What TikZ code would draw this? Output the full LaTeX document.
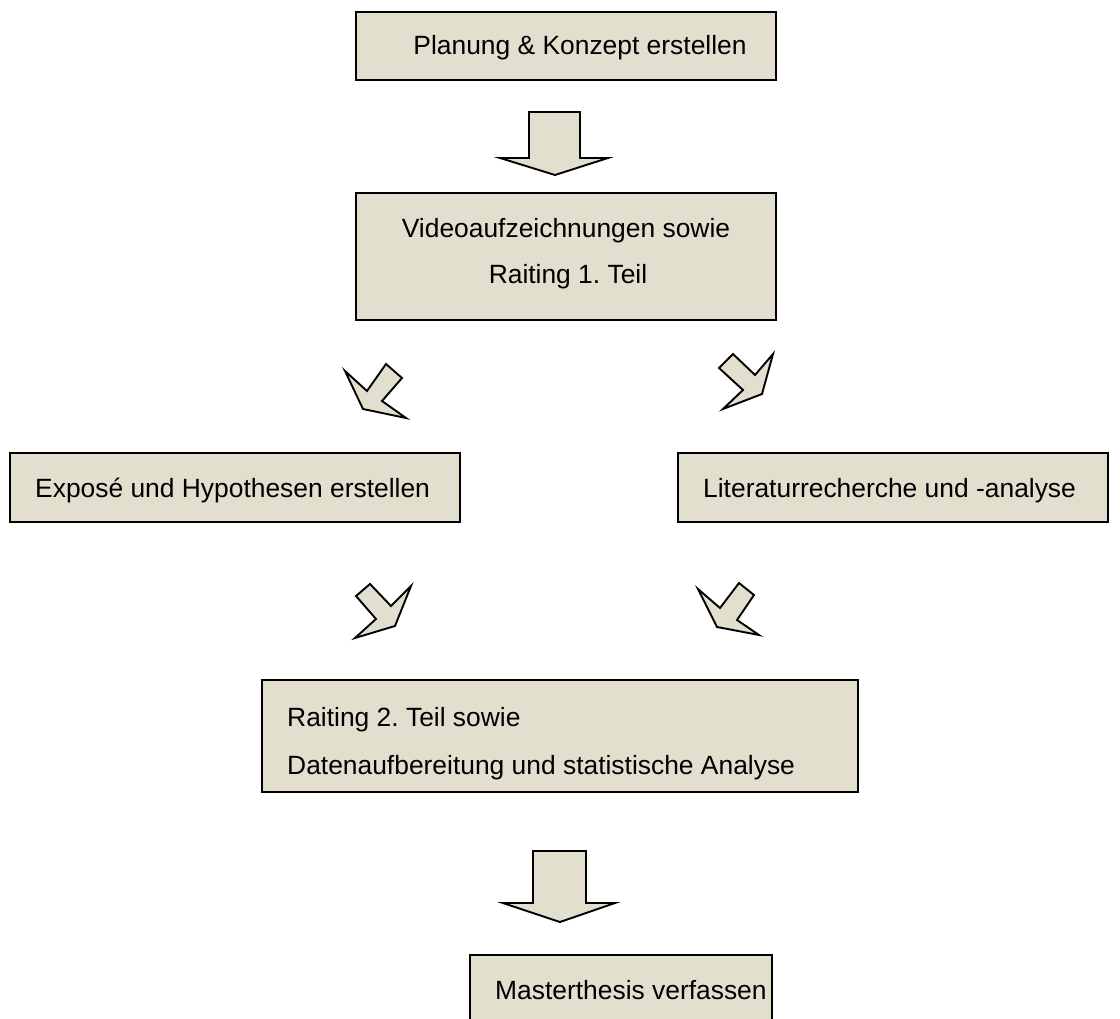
\documentclass[tikz,border=0pt]{standalone}
\usepackage{fontspec}
\setmainfont{Liberation Sans}
\definecolor{boxfill}{RGB}{226,223,207}
\frenchspacing
\begin{document}
\begin{tikzpicture}[x=1pt,y=-1pt,
  box/.style={draw=black,fill=boxfill,line width=2.7pt,rectangle,inner sep=0pt},
  lbl/.style={inner sep=0pt,font=\fontsize{26.4}{30}\selectfont},
  blockarrow/.style={draw=black,fill=boxfill,line width=1.9pt,line join=miter}]
\useasboundingbox (0,0) rectangle (1120,1019);
\clip (0,0) rectangle (1120,1019);
% boxes
\node[box,minimum width=420pt,minimum height=68pt] (b1) at (566,46) {};
\node[box,minimum width=420pt,minimum height=127pt] (b2) at (566,256.5) {};
\node[box,minimum width=450pt,minimum height=69pt] (b3) at (235,487.5) {};
\node[box,minimum width=430pt,minimum height=69pt] (b4) at (893,487.5) {};
\node[box,minimum width=596pt,minimum height=112pt] (b5) at (560,736) {};
\node[box,minimum width=302pt,minimum height=76pt] (b6) at (621,993) {};
% texts
\node[lbl,anchor=base] (t1) at (580,55) {Planung \& Konzept erstellen};
\node[lbl,anchor=base] (t2a) at (566,238) {Videoaufzeichnungen sowie};
\node[lbl,anchor=base] (t2b) at (568,284) {Raiting 1. Teil};
\node[lbl,anchor=base west] (t3) at (35,497) {Exposé und Hypothesen erstellen};
\node[lbl,anchor=base west] (t4) at (703,497) {Literaturrecherche und -analyse};
\node[lbl,anchor=base west] (t5a) at (287,726) {Raiting 2. Teil sowie};
\node[lbl,anchor=base west] (t5b) at (287,774) {Datenaufbereitung und statistische Analyse};
\node[lbl,anchor=base west] (t6) at (495,999) {Masterthesis verfassen};
% block arrows
\draw[blockarrow] (529,112) -- (580,112) -- (580,158) -- (608,158) -- (555,175) -- (500,158) -- (529,158) -- cycle;
\draw[blockarrow] (386,364) -- (402,378) -- (382,401) -- (406,418) -- (363,409) -- (345,371) -- (367,391) -- cycle;
\draw[blockarrow] (733,354) -- (719,368) -- (743,390) -- (723,409) -- (762,394) -- (773,354) -- (755,375) -- cycle;
\draw[blockarrow] (370,584) -- (356,596) -- (376,619) -- (355,638) -- (395,626) -- (411,586) -- (391,606) -- cycle;
\draw[blockarrow] (739,583) -- (754,595) -- (737,620) -- (759,635) -- (717,627) -- (698,589) -- (720,608) -- cycle;
\draw[blockarrow] (533,851) -- (586,851) -- (586,903) -- (615,903) -- (560,922) -- (503,903) -- (533,903) -- cycle;
\end{tikzpicture}
\end{document}
